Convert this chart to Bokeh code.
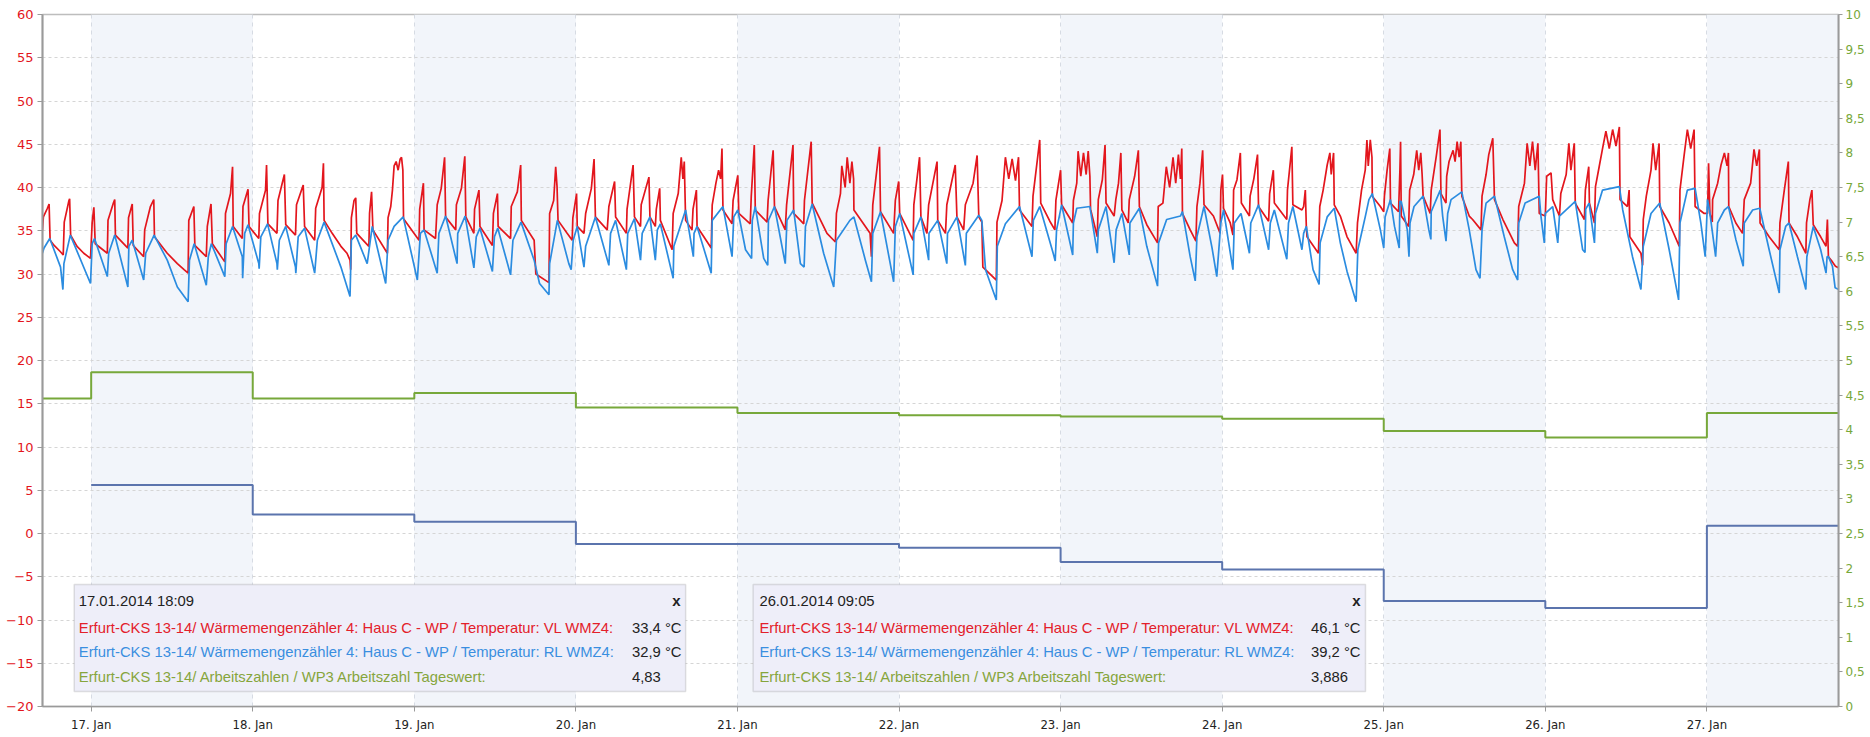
import pandas as pd
from bokeh.plotting import figure
from bokeh.models import (Range1d, LinearAxis, FixedTicker, BoxAnnotation, Label,
                          DatetimeTickFormatter, CustomJSTickFormatter)
from bokeh.embed import file_html
from bokeh.resources import INLINE

# ---------------- data ----------------
# time axis: hours since 17.01.2014 00:00
vl_hours = [-7.25, -7.1, -6.5, -6.25, -6.1, -5.5, -4.6, -4.15, -4.0, -3.3, -3.2, -3.05, -2.1, -1.1, -0.1,
            0.15, 0.4, 0.6, 2.4, 2.5, 3.3, 3.5, 3.6, 5.45, 5.55, 6.1, 6.25, 7.8, 7.95, 8.8, 9.3, 9.4, 11.3, 12.8,
            13.8, 14.4, 14.5, 15.25, 15.4, 17.1, 17.25, 17.8, 18.0, 19.85, 19.95, 20.7, 21.0, 21.1, 22.45,
            22.55, 23.3, 23.45, 24.9, 25.0, 25.9, 26.05, 26.25, 27.6, 27.75, 28.7, 28.9, 30.35, 30.5, 31.5,
            31.7, 33.2, 33.35, 34.3, 34.5, 34.6, 35.8, 37.1, 38.0, 38.45, 38.55, 38.65, 39.05, 39.3, 39.45,
            41.25, 41.35, 41.65, 41.85, 44.0, 44.1, 44.5, 44.75, 45.0, 45.3, 45.6, 45.9, 46.1, 46.3, 46.4,
            47.95, 48.7, 48.8, 49.35, 49.45, 51.15, 51.4, 52.0, 52.5, 52.65, 54.15, 54.25, 55.0, 55.5, 55.65,
            56.85, 56.95, 57.6, 57.75, 59.6, 59.75, 60.35, 60.45, 62.3, 62.4, 63.3, 63.8, 63.9, 65.8, 66.05,
            68.0, 68.1, 68.7, 69.0, 69.2, 69.35, 70.7, 71.45, 71.55, 72.1, 72.2, 73.2, 73.45, 74.3, 74.7,
            74.9, 76.65, 76.9, 77.75, 77.9, 79.5, 79.6, 80.5, 80.7, 81.6, 81.7, 82.85, 83.0, 83.8, 83.95,
            84.45, 84.55, 86.3, 86.45, 87.2, 87.65, 87.9, 88.1, 88.3, 89.25, 89.4, 89.9, 90.0, 92.1, 92.25,
            92.8, 93.2, 93.5, 93.7, 93.85, 95.2, 95.35, 96.05, 96.2, 97.9, 98.05, 98.5, 98.65, 100.4, 100.55,
            101.3, 101.5, 103.1, 103.3, 104.25, 104.35, 105.85, 105.95, 106.95, 107.1, 109.3, 110.55, 110.7,
            111.3, 111.5, 112.0, 112.3, 112.7, 113.0, 113.25, 113.3, 115.7, 115.9, 116.1, 117.1, 117.25,
            119.2, 119.45, 119.95, 120.1, 122.1, 122.2, 123.05, 123.25, 124.15, 124.4, 125.65, 125.75, 126.9,
            127.1, 128.35, 128.6, 129.6, 129.85, 131.0, 131.6, 131.85, 132.3, 132.45, 134.45, 134.55, 135.3,
            135.8, 136.3, 136.8, 137.3, 137.75, 137.9, 139.75, 139.9, 140.9, 141.05, 142.4, 143.15, 143.3,
            144.0, 144.15, 145.8, 145.9, 146.4, 146.6, 147.0, 147.4, 147.8, 148.1, 148.35, 148.45, 149.45,
            149.6, 150.2, 150.6, 150.75, 151.95, 152.2, 152.6, 152.95, 153.1, 154.05, 154.2, 155.0, 155.55,
            155.7, 156.8, 158.4, 158.5, 159.2, 159.7, 160.2, 160.7, 161.1, 161.5, 161.8, 162.0, 162.1, 163.25,
            164.1, 164.25, 164.7, 165.1, 165.3, 166.7, 167.7, 167.8, 168.05, 168.2, 169.2, 169.6, 169.7,
            170.2, 170.7, 170.85, 172.05, 172.15, 172.7, 173.25, 173.4, 174.9, 175.05, 175.6, 175.75, 177.6,
            177.7, 178.35, 178.5, 179.85, 180.1, 180.35, 180.5, 180.6, 182.3, 182.5, 183.0, 183.6, 184.0,
            184.2, 184.55, 184.65, 185.55, 186.55, 187.9, 188.1, 188.7, 189.25, 189.5, 189.7, 190.0, 190.25,
            190.3, 191.5, 192.0, 192.1, 192.5, 192.9, 193.0, 194.2, 194.4, 194.5, 194.6, 195.7, 195.85,
            196.45, 196.9, 197.2, 197.5, 197.7, 197.85, 198.9, 199.05, 199.8, 200.35, 200.5, 201.25, 201.35,
            201.7, 202.3, 202.6, 202.9, 203.2, 203.45, 203.6, 204.7, 205.2, 206.45, 206.6, 207.2, 207.6,
            208.2, 208.45, 209.7, 211.4, 211.9, 212.05, 212.9, 213.3, 213.7, 214.1, 214.5, 214.9, 215.1,
            216.0, 216.2, 216.85, 217.1, 218.1, 218.3, 219.1, 219.5, 219.8, 220.3, 220.45, 221.8, 221.95,
            222.45, 222.55, 223.3, 223.45, 224.0, 224.5, 225.0, 225.5, 226.0, 226.5, 227.0, 227.1, 228.2,
            228.45, 228.55, 230.2, 230.45, 230.55, 231.0, 231.7, 232.0, 232.4, 232.9, 233.0, 234.4, 235.9,
            236.0, 236.6, 237.1, 237.6, 238.1, 238.25, 239.6, 240.1, 240.25, 240.45, 240.8, 240.85, 241.6,
            242.1, 242.6, 243.0, 243.2, 243.25, 244.3, 245.3, 245.55, 246.5, 247.0, 247.4, 247.8, 247.9,
            249.25, 250.75, 250.85, 251.5, 252.1, 252.2, 253.45, 254.7, 254.8, 255.3, 255.6, 255.8, 256.9,
            257.7, 257.9, 258.05, 258.65, 259.1, 259.6]
vl_temp = [35.0, 36.6, 37.6, 38.1, 33.9, 33.3, 32.6, 32.2, 36.0, 38.5, 38.7, 34.5, 33.2, 32.4, 31.8,
           36.0, 37.7, 33.5, 32.4, 36.2, 38.2, 38.6, 34.5, 33.0, 36.5, 38.1, 33.3, 32.0, 35.1, 37.8, 38.6, 34.3, 32.4, 31.2,
           30.5, 30.1, 36.2, 37.8, 33.3, 32.0, 35.5, 38.1, 33.5, 31.4, 37.0, 39.3, 42.4, 35.5, 34.1,
           37.8, 39.8, 35.5, 34.1, 37.0, 39.7, 42.6, 35.8, 34.7, 38.5, 41.5, 35.7, 34.5, 38.0, 40.3,
           35.5, 33.9, 37.6, 40.0, 42.8, 36.2, 34.7, 33.2, 32.4, 31.6, 30.5, 36.5, 38.5, 38.8, 34.7,
           33.2, 37.0, 39.5, 35.1, 32.4, 36.5, 37.8, 39.7, 42.5, 43.0, 42.0, 43.3, 43.5, 42.0, 36.4,
           34.7, 33.9, 37.5, 40.5, 35.1, 34.1, 38.0, 39.9, 43.5, 36.6, 35.1, 38.0, 39.9, 43.6, 36.6,
           34.7, 37.5, 39.7, 35.5, 33.3, 37.0, 39.3, 35.5, 34.1, 37.8, 39.5, 42.6, 36.2, 33.9, 30.0,
           29.0, 37.0, 38.5, 42.4, 40.1, 36.2, 34.7, 33.9, 36.5, 39.3, 35.5, 34.7, 37.0, 39.9, 43.3,
           36.6, 35.1, 37.8, 40.7, 36.6, 34.7, 37.5, 42.6, 36.6, 35.5, 38.0, 41.2, 36.6, 35.5, 37.5,
           39.9, 36.2, 32.8, 37.0, 39.3, 43.5, 41.0, 43.0, 36.2, 35.1, 37.5, 39.7, 35.5, 33.0, 38.0,
           40.5, 42.0, 41.0, 44.5, 37.4, 35.8, 38.5, 41.4, 37.0, 35.8, 39.0, 44.9, 37.4, 36.0, 38.5,
           44.3, 37.8, 35.1, 38.0, 44.9, 37.0, 35.8, 38.5, 45.3, 38.2, 34.7, 33.7, 37.0,
           39.3, 42.5, 40.0, 43.5, 40.5, 43.0, 41.0, 37.4, 34.7, 32.0, 38.0, 44.7, 37.2,
           34.7, 38.5, 40.7, 37.0, 33.9, 38.0, 43.5, 36.6, 34.7, 38.0, 43.0, 36.2, 34.7,
           38.0, 42.6, 36.6, 35.1, 38.0, 40.5, 43.7, 36.6, 36.0, 30.8, 29.3, 36.0, 38.5,
           43.5, 41.0, 43.3, 40.8, 43.5, 37.4, 35.5, 39.0, 45.5, 38.2, 36.1, 35.1, 38.5,
           42.0, 38.0, 35.9, 38.5, 40.5, 44.2, 41.3, 44.0, 41.5, 44.2, 41.3, 37.5, 34.3,
           38.6, 40.9, 44.9, 38.2, 36.7, 38.6, 40.5, 44.0, 37.4, 35.9, 38.6, 41.3, 44.3,
           37.8, 35.7, 33.6, 37.8, 38.2, 42.4, 40.0, 43.5, 40.5, 43.8, 41.0, 44.5, 37.0, 35.1,
           33.8, 37.8, 40.5, 44.3, 38.0, 36.7, 34.7, 39.7, 41.5, 37.6, 35.9, 34.5, 39.7,
           40.9, 44.0, 38.2, 36.7, 39.0, 41.0, 43.8, 37.8, 36.1, 39.3, 42.0, 38.2, 36.3,
           39.7, 44.7, 38.0, 37.4, 37.8, 39.7, 35.5, 34.3, 32.4, 37.8, 39.7, 42.6, 44.0,
           41.5, 44.0, 38.0, 36.7, 34.3, 32.4, 35.9, 39.7, 42.0, 45.5, 42.5, 45.5, 43.5,
           39.0, 37.8, 37.2, 39.0, 42.0, 44.5, 38.2, 37.2, 42.0, 45.3, 36.7, 35.5, 39.7,
           41.5, 44.3, 42.0, 44.0, 41.5, 39.0, 37.0, 39.7, 43.6, 46.7, 39.3, 38.2, 41.3,
           43.0, 44.3, 43.0, 45.3, 43.5, 45.3, 39.0, 36.7, 36.3, 35.1, 39.0, 41.5, 43.8,
           45.7, 38.6, 36.3, 33.6, 33.2, 37.8, 40.5, 45.1, 42.5, 45.3, 42.0, 45.1, 37.0,
           36.7, 41.3, 41.7, 38.6, 36.7, 39.3, 41.5, 45.1, 42.0, 45.1, 38.2, 36.3, 39.7,
           42.4, 38.2, 35.9, 40.1, 42.4, 44.5, 46.5, 44.5, 46.7, 44.8, 47.0, 38.6, 37.8,
           39.7, 34.3, 32.4, 31.0, 36.3, 39.0, 42.0, 45.1, 42.0, 45.1, 37.8, 35.9, 33.2,
           39.7, 43.6, 46.7, 44.5, 46.7, 37.8, 37.0, 37.0, 42.8, 37.0, 36.0, 38.6, 40.5,
           42.6, 44.0, 42.5, 44.0, 37.8, 35.9, 34.7, 38.6, 40.5, 44.4, 42.5, 44.4, 35.9,
           34.3, 32.8, 35.9, 39.7, 43.0, 35.9, 34.3, 32.4, 35.9, 38.6, 39.7, 35.7, 34.3,
           33.2, 36.3, 32.0, 31.4, 30.9, 30.7]

rl_hours = [-7.25, -7.0, -6.15, -4.55, -4.2, -4.05, -3.1, -0.1, 0.15, 0.5, 2.4, 2.6, 3.5, 5.45, 5.6, 6.1,
            7.8, 8.1, 9.35, 11.3, 12.8, 14.4, 14.6, 15.3, 17.1, 17.4, 17.85, 19.85, 20.05, 21.0, 22.45,
            22.5, 22.8, 23.3, 24.9, 24.95, 25.2, 26.2, 27.6, 27.65, 27.95, 28.9, 30.35, 30.4, 30.75, 31.7,
            33.2, 33.6, 34.6, 37.1, 38.45, 38.65, 39.3, 41.0, 41.4, 41.75, 43.75, 44.1, 45.0, 46.35, 48.45,
            48.9, 49.45, 51.4, 51.65, 52.65, 54.35, 54.45, 55.55, 56.85, 57.2, 57.75, 59.6, 59.9, 60.4,
            62.3, 62.65, 63.85, 65.8, 66.6, 68.0, 68.1, 69.25, 70.95, 71.3, 71.6, 72.2, 73.2, 73.45, 74.9,
            76.9, 77.15, 77.9, 79.5, 79.7, 80.7, 81.6, 81.85, 83.0, 83.8, 84.1, 84.55, 86.45, 86.55, 88.3,
            89.45, 89.55, 90.0, 92.1, 92.25, 93.85, 95.2, 95.45, 96.05, 97.2, 98.1, 98.2, 98.65, 99.9,
            100.5, 100.6, 101.5, 103.1, 103.35, 104.35, 105.35, 105.9, 106.1, 107.1, 108.8, 110.3, 110.7,
            112.7, 113.3, 115.0, 115.9, 116.1, 117.25, 119.2, 119.45, 120.1, 122.1, 122.2, 123.25, 124.4,
            124.45, 125.75, 127.1, 127.2, 128.6, 129.85, 130.0, 131.85, 132.3, 132.85, 134.45, 134.6,
            135.8, 137.9, 139.75, 139.95, 140.9, 142.9, 143.2, 143.4, 144.15, 145.8, 145.9, 146.4, 148.35,
            149.45, 149.6, 150.75, 151.95, 152.25, 153.1, 154.2, 154.3, 155.7, 156.8, 158.4, 158.55,
            159.75, 161.8, 162.1, 163.25, 164.0, 164.25, 165.3, 166.5, 167.2, 167.8, 168.2, 169.6, 169.8,
            170.8, 172.05, 172.25, 173.4, 174.9, 175.15, 175.75, 177.6, 177.85, 178.5, 179.85, 180.1,
            180.5, 181.5, 182.4, 182.55, 183.6, 184.65, 185.55, 186.55, 187.9, 188.15, 189.25, 189.8,
            190.3, 191.5, 192.0, 192.2, 193.0, 193.6, 194.3, 194.4, 194.6, 195.5, 195.75, 195.9, 196.5,
            197.85, 198.7, 199.0, 199.05, 199.8, 200.4, 200.75, 201.25, 201.5, 202.0, 203.6, 204.7, 205.7,
            206.3, 206.6, 207.2, 208.45, 209.9, 211.15, 211.9, 212.05, 213.0, 215.1, 215.35, 215.85, 216.0,
            217.1, 217.85, 218.1, 220.45, 221.55, 221.9, 222.0, 222.5, 223.3, 223.45, 224.5, 227.0, 227.5,
            228.95, 230.2, 230.55, 231.7, 233.0, 234.4, 235.8, 236.0, 237.1, 238.25, 239.1, 239.75, 240.1,
            240.45, 241.3, 241.6, 242.6, 243.2, 244.3, 245.4, 245.55, 246.8, 247.85, 249.25, 250.75,
            250.85, 251.7, 252.2, 253.45, 254.7, 254.85, 255.8, 256.9, 257.7, 257.85, 258.05, 258.65,
            259.05, 259.6]
rl_temp = [32.4, 33.0, 34.1, 30.8, 28.2, 31.2, 34.5, 28.9, 33.5, 34.1, 29.7, 32.4, 34.5, 28.5, 33.2, 33.9,
           29.3, 32.4, 34.5, 31.6, 28.5, 26.8, 31.6, 33.5, 28.7, 32.0, 33.5, 29.7, 33.5, 35.5, 32.0,
           29.5, 34.7, 35.7, 31.2, 30.6, 34.3, 35.8, 31.2, 30.5, 33.9, 35.5, 30.8, 30.1, 34.3, 35.3,
           30.1, 33.9, 36.0, 30.8, 27.4, 33.9, 34.5, 31.2, 33.5, 35.5, 28.9, 33.9, 35.5, 36.6, 29.3,
           34.7, 35.1, 30.1, 34.7, 36.7, 31.2, 34.7, 36.7, 30.7, 34.3, 35.3, 30.3, 34.3, 35.3,
           29.9, 33.9, 36.0, 31.6, 28.9, 27.6, 31.2, 36.2, 31.2, 30.5, 33.9, 35.5, 30.8, 33.2, 36.6,
           31.0, 34.7, 36.2, 30.5, 34.7, 36.4, 31.6, 34.7, 36.6, 31.6, 35.1, 35.8, 29.5, 33.2, 37.4,
           32.0, 34.7, 35.5, 30.1, 36.2, 37.8, 32.0, 36.6, 37.4, 32.8, 31.8, 36.2, 37.8, 31.8,
           31.0, 36.2, 37.8, 31.2, 36.2, 37.4, 31.2, 30.8, 35.5, 38.1, 32.4, 28.5, 33.9,
           36.2, 36.6, 31.6, 29.1, 34.7, 37.2, 29.1, 35.5, 37.0, 29.9, 34.7, 36.6, 31.6,
           34.7, 36.2, 31.2, 34.7, 36.6, 31.0, 34.7, 36.8, 36.2, 30.5, 27.0, 33.2,
           35.8, 37.8, 32.0, 36.2, 37.8, 32.4, 31.5, 35.1, 38.0, 32.2, 35.9, 37.6, 37.8,
           32.4, 35.1, 37.8, 31.3, 35.1, 37.0, 32.2, 35.9, 37.6, 33.2, 28.6, 33.6,
           36.3, 36.7, 37.2, 32.0, 29.2, 34.3, 37.8, 33.0, 29.7, 35.9, 37.4, 30.5, 35.9,
           37.0, 32.4, 35.9, 38.0, 32.8, 35.9, 37.4, 31.7, 35.9, 37.8, 32.8, 34.7,
           35.5, 30.5, 28.8, 33.6, 36.6, 37.6, 33.6, 30.3, 26.8, 32.8, 36.6, 38.6,
           39.3, 35.1, 33.0, 36.6, 38.6, 35.5, 33.0, 38.4, 38.4, 35.1, 32.0, 35.9, 37.8,
           39.0, 35.1, 34.0, 37.2, 38.6, 39.7, 36.7, 33.8, 37.0, 38.6, 39.5, 35.1, 30.5,
           29.5, 35.1, 38.2, 39.0, 34.3, 30.5, 29.3, 35.9, 38.2, 39.0, 36.7, 33.6, 37.0,
           37.8, 33.6, 36.7, 38.4, 32.8, 32.5, 37.5, 38.2, 33.6, 37.0, 39.7, 40.1, 37.4,
           32.0, 28.2, 33.2, 37.0, 38.2, 32.8, 27.0, 35.9, 39.7, 39.9, 35.9, 32.0, 38.6,
           37.0, 32.0, 35.9, 37.4, 37.8, 34.0, 30.9, 35.9, 37.4, 37.6, 32.8, 27.8,
           32.8, 35.5, 35.9, 32.0, 28.2, 32.0, 35.5, 32.8, 30.1, 32.0, 32.0, 30.9,
           28.4, 28.2]

# daily step series
az_days = ["2014-01-16", "2014-01-17", "2014-01-18", "2014-01-19", "2014-01-20", "2014-01-21",
           "2014-01-22", "2014-01-23", "2014-01-24", "2014-01-25", "2014-01-26", "2014-01-27", "2014-01-28"]
az_values = [4.45, 4.83, 4.45, 4.53, 4.32, 4.24, 4.21, 4.19, 4.16, 3.98, 3.886, 4.24, 4.24]
ta_days = ["2014-01-17", "2014-01-18", "2014-01-19", "2014-01-20", "2014-01-21", "2014-01-22",
           "2014-01-23", "2014-01-24", "2014-01-25", "2014-01-26", "2014-01-27", "2014-01-28"]
ta_values = [5.6, 2.2, 1.35, -1.2, -1.2, -1.65, -3.3, -4.15, -7.8, -8.6, 0.9, 0.9]

tick_days = ["2014-01-17", "2014-01-18", "2014-01-19", "2014-01-20", "2014-01-21", "2014-01-22",
             "2014-01-23", "2014-01-24", "2014-01-25", "2014-01-26", "2014-01-27"]
left_ticks = list(range(-20, 61, 5))
right_ticks = [i * 0.5 for i in range(21)]

series_names = ["Erfurt-CKS 13-14/ Wärmemengenzähler 4: Haus C - WP / Temperatur: VL WMZ4:",
                "Erfurt-CKS 13-14/ Wärmemengenzähler 4: Haus C - WP / Temperatur: RL WMZ4:",
                "Erfurt-CKS 13-14/ Arbeitszahlen / WP3 Arbeitszahl Tageswert:"]
tip1_title = "17.01.2014 18:09"
tip1_values = ["33,4 °C", "32,9 °C", "4,83"]
tip2_title = "26.01.2014 09:05"
tip2_values = ["46,1 °C", "39,2 °C", "3,886"]

# ---------------- helpers ----------------
T0 = pd.Timestamp("2014-01-17 00:00")


def hms(h):
    return (T0 + pd.Timedelta(hours=h)).value / 1e6


def dms(d):
    return pd.Timestamp(d).value / 1e6


RED = "#e3161d"
BLUE = "#2b8ce0"
GREEN = "#77a83a"
SLATE = "#5b74ad"

p = figure(width=1870, height=737, output_backend="svg", toolbar_location=None, title=None,
           x_axis_type="datetime", x_range=Range1d(hms(-7.23), hms(259.55)), y_range=Range1d(-20, 60),
           min_border_left=42, min_border_top=14, min_border_right=32, min_border_bottom=31)
p.background_fill_color = "white"
p.border_fill_color = "white"
p.outline_line_color = "#bdbdbd"
p.outline_line_width = 1.5
p.extra_y_ranges = {"right": Range1d(0, 10)}

# alternating day bands
band_left = [dms(d) for d in tick_days[::2]]
band_right = [b + 86400000 for b in band_left]
p.quad(left=band_left, right=band_right, bottom=-20, top=60, fill_color="#f2f5fa",
       line_color=None, level="image")

day_ms = [dms(d) for d in tick_days]

# grids
p.xgrid.ticker = FixedTicker(ticks=day_ms)
p.xgrid.grid_line_color = "#d6dbe3"
p.xgrid.grid_line_dash = "4 4"
p.ygrid.ticker = FixedTicker(ticks=left_ticks)
p.ygrid.grid_line_color = "#d5d5d5"
p.ygrid.grid_line_dash = "3 3"

# x axis
xa = p.xaxis[0]
xa.ticker = FixedTicker(ticks=day_ms)
xa.formatter = DatetimeTickFormatter(days="%d. %b", hours="%d. %b", months="%d. %b",
                                     hourmin="%d. %b", minutes="%d. %b")
xa.axis_line_color = "#9a9a9a"
xa.axis_line_width = 1.5
xa.major_tick_line_color = "#9a9a9a"
xa.major_tick_out = 5
xa.major_tick_in = 0
xa.minor_tick_line_color = None
xa.major_label_standoff = 5
xa.major_label_text_font = "'Liberation Sans Narrow', 'DejaVu Sans Condensed', 'Liberation Sans', sans-serif"
xa.major_label_text_font_size = "13px"
xa.major_label_text_color = "#222222"

# left axis
ya = p.yaxis[0]
ya.ticker = FixedTicker(ticks=left_ticks)
ya.axis_line_color = "#9a9a9a"
ya.axis_line_width = 2
ya.major_tick_line_color = "#9a9a9a"
ya.major_tick_out = 5
ya.major_tick_in = 0
ya.minor_tick_line_color = None
ya.major_label_standoff = 4
ya.major_label_text_font = "DejaVu Sans"
ya.major_label_text_font_size = "13px"
ya.major_label_text_color = RED

# right axis
ra = LinearAxis(y_range_name="right", ticker=FixedTicker(ticks=right_ticks),
                formatter=CustomJSTickFormatter(code="return tick.toString().replace('.', ',');"))
ra.axis_line_color = "#9a9a9a"
ra.axis_line_width = 2
ra.major_tick_line_color = "#9a9a9a"
ra.major_tick_out = 4
ra.major_tick_in = 0
ra.minor_tick_line_color = None
ra.major_label_standoff = 3
ra.major_label_text_font = "DejaVu Sans"
ra.major_label_text_font_size = "12px"
ra.major_label_text_color = GREEN
p.add_layout(ra, "right")

# series
p.line([hms(h) for h in vl_hours], vl_temp, color=RED, line_width=1.7)
p.line([hms(h) for h in rl_hours], rl_temp, color=BLUE, line_width=1.7)
p.step([dms(d) for d in az_days], az_values, mode="after", color=GREEN, line_width=2,
       y_range_name="right")
p.step([dms(d) for d in ta_days], ta_values, mode="after", color=SLATE, line_width=2)

# tooltip boxes
FONT = "'Liberation Sans', Arial, sans-serif"
row_colors = ["#e3202a", "#3a8ee0", "#86a53c"]
row_y = [-10.9, -13.72, -16.61]


def tooltip(x0, x1, title, values, text_x, val_x, close_x):
    p.add_layout(BoxAnnotation(left=hms(x0), right=hms(x1), top=-5.9, bottom=-18.27,
                               fill_color="#eeeef9", fill_alpha=1.0, line_color="#9a9a9a",
                               line_width=1.5, level="overlay"))
    p.add_layout(Label(x=hms(text_x), y=-7.75, text=title, text_baseline="middle",
                       text_font=FONT, text_font_size="14.8px", text_color="#222222", level="overlay"))
    p.add_layout(Label(x=hms(close_x), y=-7.75, text="x", text_baseline="middle", text_align="right",
                       text_font=FONT, text_font_size="15px", text_font_style="bold",
                       text_color="#222222", level="overlay"))
    for name, val, col, yy in zip(series_names, values, row_colors, row_y):
        p.add_layout(Label(x=hms(text_x), y=yy, text=name, text_baseline="middle",
                           text_font=FONT, text_font_size="14.8px", text_color=col, level="overlay"))
        p.add_layout(Label(x=hms(val_x), y=yy, text=val, text_baseline="middle",
                           text_font=FONT, text_font_size="14.8px", text_color="#222222",
                           level="overlay"))
    p.segment(x0=[hms(text_x + 0.3)], x1=[hms(close_x + 0.2)], y0=[-9.1], y1=[-9.1],
              color="#c9c9c9", line_width=2, level="overlay")


tooltip(-2.52, 88.3, tip1_title, tip1_values, -1.84, 80.34, 87.56)
tooltip(98.33, 189.29, tip2_title, tip2_values, 99.26, 181.19, 188.55)

open("out.html", "w").write(file_html(p, INLINE))
